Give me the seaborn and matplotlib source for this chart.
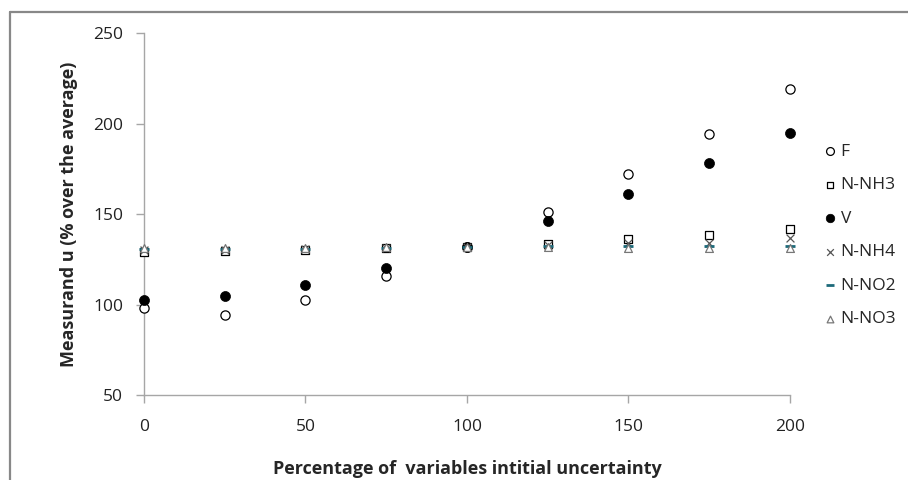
import numpy as np
import pandas as pd
import matplotlib
matplotlib.use("Agg")
import matplotlib.pyplot as plt
from matplotlib.lines import Line2D
import seaborn as sns

# Percentage of the variables' initial uncertainty
pct = [0, 25, 50, 75, 100, 125, 150, 175, 200]

# Measurand uncertainty (% over the average)
f_vals = [98, 94, 102.5, 116, 132, 151, 172, 194, 219]
nh3_vals = [129, 129.5, 130, 131, 132, 133.5, 136, 138.5, 142]
v_vals = [102.5, 105, 111, 120, 132, 146, 161, 178.5, 195]
nh4_vals = [130, 130, 130.5, 131, 132, 133, 134, 134, 137]
no2_vals = [130.5, 130.5, 130.5, 131, 132, 132.5, 132.5, 132.5, 132.5]
no3_vals = [131, 131.5, 131.5, 132, 132, 132, 131.5, 131.5, 131.5]

series_names = ["F", "N-NH3", "V", "N-NH4", "N-NO2", "N-NO3"]
series_vals = [f_vals, nh3_vals, v_vals, nh4_vals, no2_vals, no3_vals]

x_ticks = [0, 50, 100, 150, 200]
y_ticks = [50, 100, 150, 200, 250]

sns.set_theme(style="white")
plt.rcParams["font.family"] = ["Open Sans", "DejaVu Sans"]

df = pd.DataFrame({"pct": pct})
for name, vals in zip(series_names, series_vals):
    df[name] = vals

fig = plt.figure(figsize=(9.08, 4.80), dpi=100)
ax = fig.add_axes([0.1586, 0.177, 0.7114, 0.754])

styles = {
    "F": dict(marker="o", s=44, facecolor="white", edgecolor="black", linewidth=0.9),
    "N-NH3": dict(marker="s", s=34, facecolor="white", edgecolor="black", linewidth=0.9),
    "V": dict(marker="o", s=52, color="black", edgecolor="black", linewidth=0.5),
    "N-NH4": dict(marker="x", s=32, color="#555555", linewidth=0.9),
    "N-NO2": dict(marker="_", s=50, color="#1d6a7a", linewidth=2.0),
    "N-NO3": dict(marker="^", s=32, facecolor="white", edgecolor="#777777", linewidth=0.9),
}

for name in series_names:
    sns.scatterplot(data=df, x="pct", y=name, ax=ax, label=name,
                    clip_on=False, zorder=3, **styles[name])

ax.set_xlim(0, 200)
ax.set_ylim(50, 250)
ax.set_xticks(x_ticks)
ax.set_yticks(y_ticks)

for side in ["top", "right"]:
    ax.spines[side].set_visible(False)
for side in ["left", "bottom"]:
    ax.spines[side].set_color("#a6a6a6")
    ax.spines[side].set_linewidth(1.0)

ax.tick_params(axis="both", which="major", length=6, width=1.0,
               color="#a6a6a6", labelsize=12.5, labelcolor="#222222",
               direction="out", bottom=True, left=True)
ax.tick_params(axis="x", pad=11)
ax.tick_params(axis="y", pad=9)

ax.set_xlabel("Percentage of  variables intitial uncertainty",
              fontsize=13, fontweight="bold", labelpad=18)
ax.set_ylabel("Measurand u (% over the average)",
              fontsize=13, fontweight="bold", labelpad=11)

handles, labels = ax.get_legend_handles_labels()
ax.legend_.remove()
fig.legend(handles, labels, loc="upper left",
           bbox_to_anchor=(0.897, 0.715), frameon=False,
           fontsize=12.5, labelspacing=1.0, handletextpad=0.1,
           handlelength=1.0, borderaxespad=0, markerscale=0.85)

# outer frame (top and left edges)
fig.add_artist(Line2D([10 / 908, 1.0], [1 - 12 / 480, 1 - 12 / 480],
                      transform=fig.transFigure, color="#888888", linewidth=1.6))
fig.add_artist(Line2D([10 / 908, 10 / 908], [1 - 12 / 480, 0.0],
                      transform=fig.transFigure, color="#888888", linewidth=1.6))

fig.savefig("out.png", dpi=100, facecolor="white")
